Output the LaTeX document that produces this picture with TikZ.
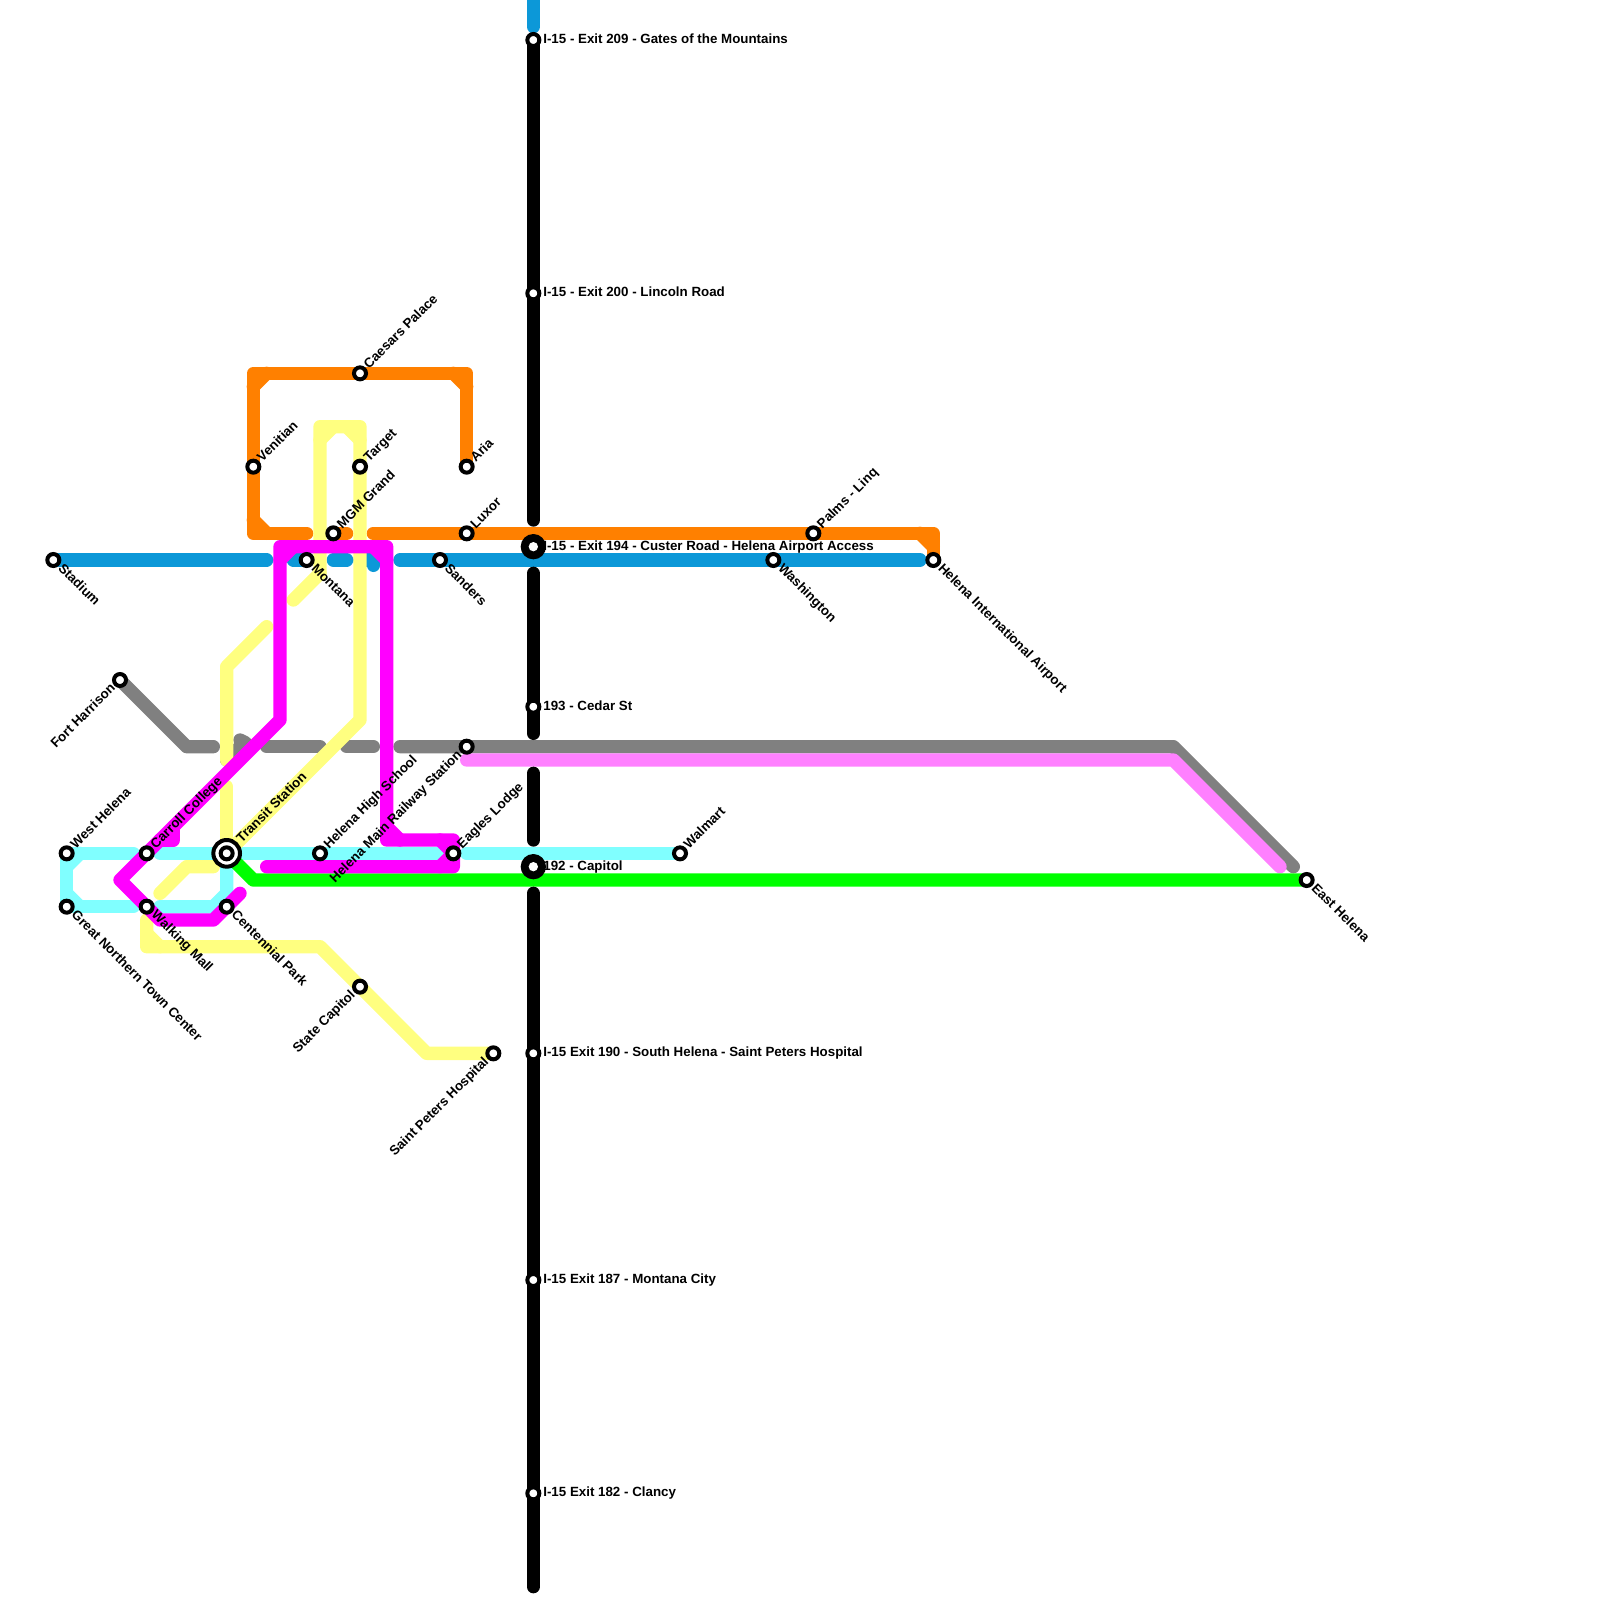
\documentclass[tikz,border=0pt]{standalone}
\usepackage{fontspec}
\setmainfont{Liberation Sans}
\usetikzlibrary{backgrounds}
\definecolor{cGray}{HTML}{808080}
\definecolor{cBlue}{HTML}{0C98D8}
\definecolor{cOrange}{HTML}{FF8000}
\definecolor{cCyan}{HTML}{80FFFF}
\definecolor{cYellow}{HTML}{FFFF80}
\definecolor{cPink}{HTML}{FF80FF}
\definecolor{cGreen}{HTML}{00FF00}
\definecolor{cMagenta}{HTML}{FF00FF}
\tikzset{
  x=10pt,y=-10pt,
  metro/.style={line width=10pt,line cap=round,line join=round},
  stn/.style={circle,draw=black,fill=white,line width=3pt,minimum size=9pt,inner sep=0pt,outer sep=0pt},
  hub/.style={circle,fill=black,minimum size=19pt,inner sep=0pt,outer sep=0pt},
  hubdot/.style={circle,fill=white,minimum size=7pt,inner sep=0pt,outer sep=0pt},
  bigring/.style={circle,draw=black,fill=white,line width=3pt,minimum size=20pt,inner sep=0pt,outer sep=0pt},
  lbl/.style={font=\fontsize{10pt}{12pt}\selectfont\bfseries,inner sep=0pt,outer sep=0pt,text=black},
  lne/.style={lbl,xshift=5pt,yshift=5pt,rotate=45,anchor=mid west},
  lse/.style={lbl,xshift=5pt,yshift=-5pt,rotate=-45,anchor=mid west},
  lsw/.style={lbl,xshift=-5pt,yshift=-5pt,rotate=45,anchor=mid east},
  lr/.style={lbl,xshift=7.5pt,anchor=mid west},
}
\begin{document}
\begin{tikzpicture}
\useasboundingbox (0,0) rectangle (120,120);
% stations
\foreach \n/\x/\y in {stadium/4/42,westhelena/5/64,greatnorthern/5/68,carroll/11/64,walking/11/68,centennial/17/68,fortharrison/9/51,hhs/24/64,eagles/34/64,walmart/51/64,railway/35/56,easthelena/98/66,venitian/19/35,caesars/27/28,target/27/35,aria/35/35,luxor/35/40,mgm/25/40,montana/23/42,sanders/33/42,washington/58/42,palms/61/40,airport/70/42,exit209/40/3,exit200/40/22,cedar/40/53,exit190/40/79,exit187/40/96,exit182/40/112,capitolst/27/74,stpeters/37/79}
  {\node[stn] (\n) at (\x,\y) {};}
\node[bigring] (transit) at (17,64) {};
\node[stn] (transitin) at (17,64) {};
\node[hub] (custer) at (40,41) {};
\node[hubdot] (custerdot) at (40,41) {};
\node[hub] (capitol) at (40,65) {};
\node[hubdot] (capitoldot) at (40,65) {};
% labels
\node[lse] (t1) at (stadium) {Stadium};
\node[lne] (t2) at (westhelena) {West Helena};
\node[lse] (t3) at (greatnorthern) {Great Northern Town Center};
\node[lne] (t4) at (carroll) {Carroll College};
\node[lse] (t5) at (walking) {Walking Mall};
\node[lse] (t6) at (centennial) {Centennial Park};
\node[lsw] (t7) at (fortharrison) {Fort Harrison};
\node[lne] (t8) at (hhs) {Helena High School};
\node[lne] (t9) at (eagles) {Eagles Lodge};
\node[lne] (t10) at (walmart) {Walmart};
\node[lsw] (t11) at (railway) {Helena Main Railway Station};
\node[lse] (t12) at (easthelena) {East Helena};
\node[lne] (t13) at (venitian) {Venitian};
\node[lne] (t14) at (caesars) {Caesars Palace};
\node[lne] (t15) at (target) {Target};
\node[lne] (t16) at (aria) {Aria};
\node[lne] (t17) at (luxor) {Luxor};
\node[lne] (t18) at (mgm) {MGM Grand};
\node[lse] (t19) at (montana) {Montana};
\node[lse] (t20) at (sanders) {Sanders};
\node[lse] (t21) at (washington) {Washington};
\node[lne] (t22) at (palms) {Palms - Linq};
\node[lse] (t23) at (airport) {Helena International Airport};
\node[lr] (t24) at (exit209) {I-15 - Exit 209 - Gates of the Mountains};
\node[lr] (t25) at (exit200) {I-15 - Exit 200 - Lincoln Road};
\node[lr] (t26) at (cedar) {193 - Cedar St};
\node[lr] (t27) at (exit190) {I-15 Exit 190 - South Helena - Saint Peters Hospital};
\node[lr] (t28) at (exit187) {I-15 Exit 187 - Montana City};
\node[lr] (t29) at (exit182) {I-15 Exit 182 - Clancy};
\node[lsw] (t30) at (capitolst) {State Capitol};
\node[lsw] (t31) at (stpeters) {Saint Peters Hospital};
\node[lbl,xshift=9.5pt,yshift=9.5pt,rotate=45,anchor=mid west] (t32) at (transit) {Transit Station};
\node[lr] (t33) at (custer) {I-15 - Exit 194 - Custer Road - Helena Airport Access};
\node[lr] (t34) at (capitol) {192 - Capitol};
\begin{scope}[on background layer]
\fill[white] (0,0) rectangle (120,120);
% gray
\begin{scope}[metro,draw=cGray]
\draw (fortharrison.center) -- (14,56) -- (16,56);
\draw (18,55.5) -- (18.4,55.7) -- (18,56) -- (17,57);
\draw (20,56) -- (24,56);
\draw (26,56) -- (28,56);
\draw (30,56) -- (railway.center) -- (88,56) -- (97,65);
\end{scope}
% blue
\begin{scope}[metro,draw=cBlue]
\draw (40,0) -- (40,2);
\draw (stadium.center) -- (20,42);
\draw (22,42) -- (montana.center);
\draw (25,42) -- (26,42);
\draw (27,42) -- (28,42) -- (28,42.4);
\draw (30,42) -- (sanders.center) -- (washington.center) -- (69,42);
\end{scope}
% orange
\begin{scope}[metro,draw=cOrange]
\draw (aria.center) -- (35,28) -- (caesars.center) -- (19,28) -- (venitian.center) -- (19,40) -- (23,40);
\draw (19,29) -- (20,28) (19,39) -- (20,40) (34,28) -- (35,29);
\draw (mgm.center) -- (26,40);
\draw (28,40) -- (luxor.center) -- (palms.center) -- (70,40) -- (airport.center);
\draw (69,40) -- (70,41);
\end{scope}
% cyan
\begin{scope}[metro,draw=cCyan]
\draw (10,64) -- (westhelena.center) -- (greatnorthern.center) -- (10,68);
\draw (5,65) -- (6,64) (5,67) -- (6,68);
\draw (12,64) -- (transit.center) -- (hhs.center) -- (eagles.center);
\draw (35,64) -- (walmart.center);
\draw (transit.center) -- (17,67) -- (16,68) -- (12,68);
\end{scope}
% yellow
\begin{scope}[metro,draw=cYellow]
\draw (24,43) -- (24,32) -- (27,32) -- (target.center) -- (27,54) -- (transit.center);
\draw (24,33) -- (25,32) (26,32) -- (27,33);
\draw (24,43) -- (22,45);
\draw (20,47) -- (17,50) -- (17,57);
\draw (17,59) -- (transit.center);
\draw (16,65) -- (14,65) -- (12,67);
\draw (11,69) -- (11,71) -- (24,71) -- (capitolst.center) -- (32,79) -- (stpeters.center);
\draw (11,70) -- (12,71);
\end{scope}
% pink
\draw[metro,draw=cPink] (35,57) -- (88,57) -- (96,65);
% green
\draw[metro,draw=cGreen] (transit.center) -- (19,66) -- (easthelena.center);
% magenta
\begin{scope}[metro,draw=cMagenta]
\draw (18,67) -- (16,69) -- (12,69) -- (walking.center) -- (9,66) -- (carroll.center) -- (17,58) -- (21,54) -- (21,41) -- (29,41) -- (29,63) -- (34,63) -- (34,65) -- (20,65);
\draw (21,42) -- (22,41) (28,41) -- (29,42) (29,62) -- (30,63) (33,63) -- (34,64) -- (33,65);
\draw (13,62) -- (13,63) -- (12,63);
\end{scope}
% black
\begin{scope}[metro,draw=black]
\draw (exit209.center) -- (exit200.center) -- (40,39);
\draw (40,43) -- (cedar.center) -- (40,55);
\draw (40,58) -- (40,63);
\draw (40,67) -- (exit190.center) -- (exit187.center) -- (exit182.center) -- (40,119);
\end{scope}
\end{scope}
\end{tikzpicture}
\end{document}
